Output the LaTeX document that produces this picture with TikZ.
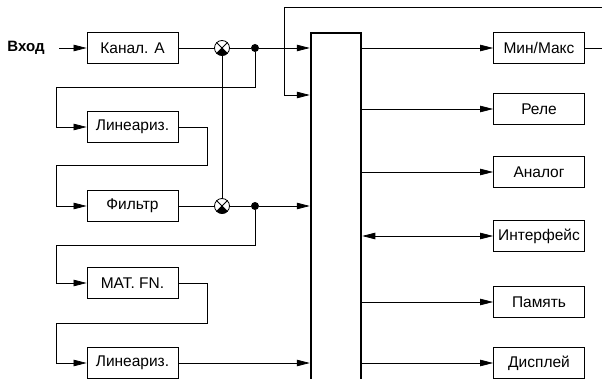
\documentclass[tikz,border=0pt]{standalone}
\usepackage{fontspec}
\setmainfont{Liberation Sans}
\usetikzlibrary{arrows.meta}

\tikzset{
  blk/.style={draw, line width=0.8pt, minimum width=91pt, minimum height=31pt,
    inner sep=0pt, font=\fontsize{15.5}{18}\selectfont},
  wire/.style={line width=0.7pt},
  arr/.style={wire, -{Triangle[length=13pt,width=6.5pt]}},
  dualarr/.style={wire, {Triangle[length=13pt,width=6.5pt]}-{Triangle[length=13pt,width=6.5pt]}},
  mult/.style={draw, circle, line width=0.8pt, minimum size=15pt, inner sep=0pt},
  dot/.style={circle, fill, minimum size=8pt, inner sep=0pt},
  bus/.style={draw, line width=2.5pt, minimum width=50pt, minimum height=380pt, inner sep=0pt},
}
% croce e quadrante pieno del moltiplicatore
\newcommand{\mulmark}[1]{%
  \draw[line width=0.8pt] (#1.45) -- (#1.225) (#1.135) -- (#1.-45);
  \fill (#1.center) -- (#1.-45) arc[start angle=-45, end angle=-135, radius=7.5pt] -- cycle;}

\begin{document}
\begin{tikzpicture}[x=1pt, y=1pt]
        \useasboundingbox (0,0) rectangle (602,378);
        \clip (0,0) rectangle (602,378);

        % Blocchi a sinistra
        \node[font=\bfseries\fontsize{15}{18}\selectfont] (vhod) at (26,330) {Вход};
        \node[blk] (kanal) at (132.5,330) {Канал. A};
        \node[blk] (lin1) at (132.5,251) {Линеариз.};
        \node[blk] (filtr) at (132.5,172) {Фильтр};
        \node[blk] (matfn) at (132.5,95) {MAT. FN.};
        \node[blk] (lin2) at (132.5,15) {Линеариз.};

        % Moltiplicatori e nodi
        \node[mult] (m1) at (222,330) {};
        \node[mult] (m2) at (222,172) {};
        \node[dot] (d1) at (255,330) {};
        \node[dot] (d2) at (255,172) {};
        \mulmark{m1}
        \mulmark{m2}

        % Bus centrale
        \node[bus] (bus) at (336,154.75) {};

        % Blocchi a destra
        \node[blk] (minmax) at (539,330) {Мин/Макс};
        \node[blk] (rele) at (539,269) {Реле};
        \node[blk] (analog) at (539,206) {Аналог};
        \node[blk] (interf) at (539,142) {Интерфейс};
        \node[blk] (pamyat) at (539,76) {Память};
        \node[blk] (displ) at (539,15) {Дисплей};

        % Collegamenti a sinistra
        \draw[arr] ([xshift=11pt]vhod.east) -- (kanal);
        \draw[wire] (kanal) -- (m1);
        \draw[wire] (m1) -- (d1);
        \draw[arr] (d1) -- (d1 -| bus.west);
        \draw[wire] (m1) -- (m2);
        \draw[arr] (d1) -- ++(0,-39) -| ([xshift=-30pt]lin1.west) -- (lin1.west);
        \draw[arr] (lin1.east) -| ++(29,-38) -| ([xshift=-30pt]filtr.west) -- (filtr.west);
        \draw[wire] (filtr) -- (m2);
        \draw[wire] (m2) -- (d2);
        \draw[arr] (d2) -- (d2 -| bus.west);
        \draw[arr] (d2) -- ++(0,-39) -| ([xshift=-30pt]matfn.west) -- (matfn.west);
        \draw[arr] (matfn.east) -| ++(29,-40) -| ([xshift=-30pt]lin2.west) -- (lin2.west);
        \draw[arr] (lin2) -- (lin2 -| bus.west);

        % Ritorno da Min/Max
        \coordinate (fbtop) at (602,371);
        \coordinate (fbout) at (602,330);
        \coordinate (fbin) at (284,283);
        \draw[wire] (minmax) -- (fbout);
        \draw[arr] (fbtop) -| (fbin) -- (fbin -| bus.west);

        % Uscite dal bus
        \foreach \n in {minmax,rele,analog,pamyat,displ}
            \draw[arr] (\n -| bus.east) -- (\n.west);
        \draw[dualarr] (interf -| bus.east) -- (interf.west);

    \end{tikzpicture}
\end{document}
